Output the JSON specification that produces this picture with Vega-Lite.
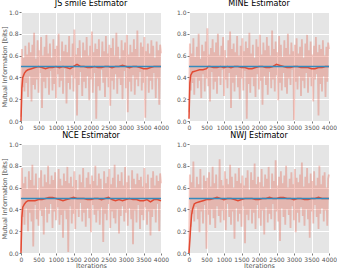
{
"$schema": "https://vega.github.io/schema/vega-lite/v6.json",
"padding": {"left": 1, "top": 0, "right": 0, "bottom": 0},
"background": "white",
"bounds": "flush",
"datasets": {
"truth": [{"i":0,"v":0.5},{"i":4000,"v":0.5}],
"jsr": [{"i":0,"v":0.04},{"i":25,"v":0.66},{"i":50,"v":0.31},{"i":75,"v":0.58},{"i":100,"v":0.27},{"i":125,"v":0.69},{"i":150,"v":0.35},{"i":175,"v":0.61},{"i":200,"v":0.22},{"i":225,"v":0.72},
{"i":250,"v":0.41},{"i":275,"v":0.63},{"i":300,"v":0.18},{"i":325,"v":0.70},{"i":350,"v":0.33},{"i":375,"v":0.81},{"i":400,"v":0.29},{"i":425,"v":0.57},{"i":450,"v":0.38},{"i":475,"v":0.74},
{"i":500,"v":0.26},{"i":525,"v":0.65},{"i":550,"v":0.44},{"i":575,"v":0.77},{"i":600,"v":0.12},{"i":625,"v":0.60},{"i":650,"v":0.36},{"i":675,"v":0.68},{"i":700,"v":0.30},{"i":725,"v":0.79},
{"i":750,"v":0.40},{"i":775,"v":0.62},{"i":800,"v":0.24},{"i":825,"v":0.71},{"i":850,"v":0.46},{"i":875,"v":0.58},{"i":900,"v":0.28},{"i":925,"v":0.75},{"i":950,"v":0.34},{"i":975,"v":0.66},
{"i":1000,"v":0.21},{"i":1025,"v":0.69},{"i":1050,"v":0.43},{"i":1075,"v":0.80},{"i":1100,"v":0.31},{"i":1125,"v":0.55},{"i":1150,"v":0.37},{"i":1175,"v":0.73},{"i":1200,"v":0.25},{"i":1225,"v":0.64},
{"i":1250,"v":0.48},{"i":1275,"v":0.70},{"i":1300,"v":0.16},{"i":1325,"v":0.63},{"i":1350,"v":0.35},{"i":1375,"v":0.78},{"i":1400,"v":0.29},{"i":1425,"v":0.59},{"i":1450,"v":0.42},{"i":1475,"v":0.71},
{"i":1500,"v":0.27},{"i":1525,"v":0.84},{"i":1550,"v":0.39},{"i":1575,"v":0.61},{"i":1600,"v":0.05},{"i":1625,"v":0.67},{"i":1650,"v":0.33},{"i":1675,"v":0.74},{"i":1700,"v":0.45},{"i":1725,"v":0.58},
{"i":1750,"v":0.23},{"i":1775,"v":0.72},{"i":1800,"v":0.36},{"i":1825,"v":0.65},{"i":1850,"v":0.30},{"i":1875,"v":0.77},{"i":1900,"v":0.41},{"i":1925,"v":0.60},{"i":1950,"v":0.19},{"i":1975,"v":0.69},
{"i":2000,"v":0.38},{"i":2025,"v":0.82},{"i":2050,"v":0.26},{"i":2075,"v":0.63},{"i":2100,"v":0.44},{"i":2125,"v":0.71},{"i":2150,"v":0.02},{"i":2175,"v":0.66},{"i":2200,"v":0.32},{"i":2225,"v":0.75},
{"i":2250,"v":0.28},{"i":2275,"v":0.59},{"i":2300,"v":0.47},{"i":2325,"v":0.73},{"i":2350,"v":0.35},{"i":2375,"v":0.64},{"i":2400,"v":0.22},{"i":2425,"v":0.78},{"i":2450,"v":0.40},{"i":2475,"v":0.62},
{"i":2500,"v":0.31},{"i":2525,"v":0.70},{"i":2550,"v":0.14},{"i":2575,"v":0.67},{"i":2600,"v":0.37},{"i":2625,"v":0.76},{"i":2650,"v":0.29},{"i":2675,"v":0.60},{"i":2700,"v":0.43},{"i":2725,"v":0.81},
{"i":2750,"v":0.25},{"i":2775,"v":0.68},{"i":2800,"v":0.39},{"i":2825,"v":0.57},{"i":2850,"v":0.33},{"i":2875,"v":0.74},{"i":2900,"v":0.20},{"i":2925,"v":0.65},{"i":2950,"v":0.46},{"i":2975,"v":0.72},
{"i":3000,"v":0.30},{"i":3025,"v":0.79},{"i":3050,"v":0.08},{"i":3075,"v":0.61},{"i":3100,"v":0.36},{"i":3125,"v":0.70},{"i":3150,"v":0.27},{"i":3175,"v":0.63},{"i":3200,"v":0.42},{"i":3225,"v":0.75},
{"i":3250,"v":0.24},{"i":3275,"v":0.66},{"i":3300,"v":0.38},{"i":3325,"v":0.83},{"i":3350,"v":0.32},{"i":3375,"v":0.59},{"i":3400,"v":0.45},{"i":3425,"v":0.72},{"i":3450,"v":0.28},{"i":3475,"v":0.68},
{"i":3500,"v":0.35},{"i":3525,"v":0.77},{"i":3550,"v":0.03},{"i":3575,"v":0.64},{"i":3600,"v":0.41},{"i":3625,"v":0.71},{"i":3650,"v":0.26},{"i":3675,"v":0.62},{"i":3700,"v":0.37},{"i":3725,"v":0.74},
{"i":3750,"v":0.29},{"i":3775,"v":0.69},{"i":3800,"v":0.44},{"i":3825,"v":0.58},{"i":3850,"v":0.21},{"i":3875,"v":0.73},{"i":3900,"v":0.39},{"i":3925,"v":0.65},{"i":3950,"v":0.15},{"i":3975,"v":0.70},
{"i":4000,"v":0.62}],
"mir": [{"i":0,"v":0.08},{"i":25,"v":0.71},{"i":50,"v":0.28},{"i":75,"v":0.62},{"i":100,"v":0.35},{"i":125,"v":0.76},{"i":150,"v":0.24},{"i":175,"v":0.59},{"i":200,"v":0.40},{"i":225,"v":0.68},
{"i":250,"v":0.30},{"i":275,"v":0.80},{"i":300,"v":0.37},{"i":325,"v":0.57},{"i":350,"v":0.21},{"i":375,"v":0.70},{"i":400,"v":0.43},{"i":425,"v":0.64},{"i":450,"v":0.27},{"i":475,"v":0.73},
{"i":500,"v":0.39},{"i":525,"v":0.85},{"i":550,"v":0.32},{"i":575,"v":0.61},{"i":600,"v":0.18},{"i":625,"v":0.67},{"i":650,"v":0.45},{"i":675,"v":0.75},{"i":700,"v":0.29},{"i":725,"v":0.63},
{"i":750,"v":0.36},{"i":775,"v":0.72},{"i":800,"v":0.25},{"i":825,"v":0.80},{"i":850,"v":0.41},{"i":875,"v":0.60},{"i":900,"v":0.33},{"i":925,"v":0.69},{"i":950,"v":0.47},{"i":975,"v":0.77},
{"i":1000,"v":0.23},{"i":1025,"v":0.65},{"i":1050,"v":0.38},{"i":1075,"v":0.58},{"i":1100,"v":0.30},{"i":1125,"v":0.74},{"i":1150,"v":0.44},{"i":1175,"v":0.82},{"i":1200,"v":0.12},{"i":1225,"v":0.66},
{"i":1250,"v":0.35},{"i":1275,"v":0.71},{"i":1300,"v":0.27},{"i":1325,"v":0.63},{"i":1350,"v":0.42},{"i":1375,"v":0.78},{"i":1400,"v":0.31},{"i":1425,"v":0.60},{"i":1450,"v":0.20},{"i":1475,"v":0.69},
{"i":1500,"v":0.39},{"i":1525,"v":0.76},{"i":1550,"v":0.28},{"i":1575,"v":0.64},{"i":1600,"v":0.46},{"i":1625,"v":0.73},{"i":1650,"v":0.02},{"i":1675,"v":0.67},{"i":1700,"v":0.34},{"i":1725,"v":0.81},
{"i":1750,"v":0.26},{"i":1775,"v":0.62},{"i":1800,"v":0.40},{"i":1825,"v":0.70},{"i":1850,"v":0.32},{"i":1875,"v":0.58},{"i":1900,"v":0.22},{"i":1925,"v":0.75},{"i":1950,"v":0.43},{"i":1975,"v":0.68},
{"i":2000,"v":0.29},{"i":2025,"v":0.79},{"i":2050,"v":0.37},{"i":2075,"v":0.61},{"i":2100,"v":0.15},{"i":2125,"v":0.72},{"i":2150,"v":0.41},{"i":2175,"v":0.65},{"i":2200,"v":0.33},{"i":2225,"v":0.77},
{"i":2250,"v":0.24},{"i":2275,"v":0.69},{"i":2300,"v":0.45},{"i":2325,"v":0.60},{"i":2350,"v":0.30},{"i":2375,"v":0.83},{"i":2400,"v":0.38},{"i":2425,"v":0.66},{"i":2450,"v":0.27},{"i":2475,"v":0.73},
{"i":2500,"v":0.42},{"i":2525,"v":0.63},{"i":2550,"v":0.19},{"i":2575,"v":0.78},{"i":2600,"v":0.35},{"i":2625,"v":0.70},{"i":2650,"v":0.28},{"i":2675,"v":0.59},{"i":2700,"v":0.44},{"i":2725,"v":0.74},
{"i":2750,"v":0.31},{"i":2775,"v":0.67},{"i":2800,"v":0.25},{"i":2825,"v":0.80},{"i":2850,"v":0.39},{"i":2875,"v":0.61},{"i":2900,"v":0.33},{"i":2925,"v":0.72},{"i":2950,"v":0.47},{"i":2975,"v":0.64},
{"i":3000,"v":0.01},{"i":3025,"v":0.70},{"i":3050,"v":0.36},{"i":3075,"v":0.76},{"i":3100,"v":0.29},{"i":3125,"v":0.62},{"i":3150,"v":0.41},{"i":3175,"v":0.68},{"i":3200,"v":0.23},{"i":3225,"v":0.75},
{"i":3250,"v":0.37},{"i":3275,"v":0.58},{"i":3300,"v":0.30},{"i":3325,"v":0.71},{"i":3350,"v":0.44},{"i":3375,"v":0.79},{"i":3400,"v":0.26},{"i":3425,"v":0.65},{"i":3450,"v":0.40},{"i":3475,"v":0.73},
{"i":3500,"v":0.32},{"i":3525,"v":0.61},{"i":3550,"v":0.18},{"i":3575,"v":0.69},{"i":3600,"v":0.38},{"i":3625,"v":0.77},{"i":3650,"v":0.43},{"i":3675,"v":0.63},{"i":3700,"v":0.05},{"i":3725,"v":0.70},
{"i":3750,"v":0.34},{"i":3775,"v":0.66},{"i":3800,"v":0.27},{"i":3825,"v":0.74},{"i":3850,"v":0.41},{"i":3875,"v":0.60},{"i":3900,"v":0.22},{"i":3925,"v":0.68},{"i":3950,"v":0.36},{"i":3975,"v":0.72},
{"i":4000,"v":0.66}],
"ncr": [{"i":0,"v":0.02},{"i":25,"v":0.78},{"i":50,"v":0.33},{"i":75,"v":0.64},{"i":100,"v":0.26},{"i":125,"v":0.70},{"i":150,"v":0.41},{"i":175,"v":0.59},{"i":200,"v":0.20},{"i":225,"v":0.75},
{"i":250,"v":0.37},{"i":275,"v":0.67},{"i":300,"v":0.29},{"i":325,"v":0.81},{"i":350,"v":0.06},{"i":375,"v":0.62},{"i":400,"v":0.44},{"i":425,"v":0.73},{"i":450,"v":0.31},{"i":475,"v":0.58},
{"i":500,"v":0.25},{"i":525,"v":0.69},{"i":550,"v":0.39},{"i":575,"v":0.76},{"i":600,"v":0.34},{"i":625,"v":0.61},{"i":650,"v":0.17},{"i":675,"v":0.72},{"i":700,"v":0.42},{"i":725,"v":0.65},
{"i":750,"v":0.28},{"i":775,"v":0.80},{"i":800,"v":0.36},{"i":825,"v":0.63},{"i":850,"v":0.45},{"i":875,"v":0.71},{"i":900,"v":0.23},{"i":925,"v":0.67},{"i":950,"v":0.38},{"i":975,"v":0.74},
{"i":1000,"v":0.30},{"i":1025,"v":0.59},{"i":1050,"v":0.42},{"i":1075,"v":0.77},{"i":1100,"v":0.26},{"i":1125,"v":0.68},{"i":1150,"v":0.35},{"i":1175,"v":0.62},{"i":1200,"v":0.14},{"i":1225,"v":0.73},
{"i":1250,"v":0.39},{"i":1275,"v":0.66},{"i":1300,"v":0.31},{"i":1325,"v":0.79},{"i":1350,"v":0.01},{"i":1375,"v":0.64},{"i":1400,"v":0.43},{"i":1425,"v":0.70},{"i":1450,"v":0.27},{"i":1475,"v":0.61},
{"i":1500,"v":0.36},{"i":1525,"v":0.75},{"i":1550,"v":0.22},{"i":1575,"v":0.67},{"i":1600,"v":0.40},{"i":1625,"v":0.58},{"i":1650,"v":0.33},{"i":1675,"v":0.72},{"i":1700,"v":0.46},{"i":1725,"v":0.65},
{"i":1750,"v":0.29},{"i":1775,"v":0.78},{"i":1800,"v":0.37},{"i":1825,"v":0.60},{"i":1850,"v":0.24},{"i":1875,"v":0.69},{"i":1900,"v":0.41},{"i":1925,"v":0.74},{"i":1950,"v":0.32},{"i":1975,"v":0.63},
{"i":2000,"v":0.19},{"i":2025,"v":0.71},{"i":2050,"v":0.44},{"i":2075,"v":0.66},{"i":2100,"v":0.35},{"i":2125,"v":0.80},{"i":2150,"v":0.28},{"i":2175,"v":0.62},{"i":2200,"v":0.39},{"i":2225,"v":0.73},
{"i":2250,"v":0.26},{"i":2275,"v":0.68},{"i":2300,"v":0.42},{"i":2325,"v":0.59},{"i":2350,"v":0.10},{"i":2375,"v":0.75},{"i":2400,"v":0.36},{"i":2425,"v":0.64},{"i":2450,"v":0.30},{"i":2475,"v":0.70},
{"i":2500,"v":0.45},{"i":2525,"v":0.77},{"i":2550,"v":0.23},{"i":2575,"v":0.63},{"i":2600,"v":0.38},{"i":2625,"v":0.69},{"i":2650,"v":0.32},{"i":2675,"v":0.81},{"i":2700,"v":0.27},{"i":2725,"v":0.60},
{"i":2750,"v":0.40},{"i":2775,"v":0.72},{"i":2800,"v":0.18},{"i":2825,"v":0.66},{"i":2850,"v":0.34},{"i":2875,"v":0.74},{"i":2900,"v":0.43},{"i":2925,"v":0.62},{"i":2950,"v":0.29},{"i":2975,"v":0.79},
{"i":3000,"v":0.37},{"i":3025,"v":0.65},{"i":3050,"v":0.25},{"i":3075,"v":0.71},{"i":3100,"v":0.41},{"i":3125,"v":0.58},{"i":3150,"v":0.31},{"i":3175,"v":0.76},{"i":3200,"v":0.08},{"i":3225,"v":0.68},
{"i":3250,"v":0.39},{"i":3275,"v":0.63},{"i":3300,"v":0.28},{"i":3325,"v":0.73},{"i":3350,"v":0.44},{"i":3375,"v":0.67},{"i":3400,"v":0.22},{"i":3425,"v":0.70},{"i":3450,"v":0.35},{"i":3475,"v":0.61},
{"i":3500,"v":0.30},{"i":3525,"v":0.78},{"i":3550,"v":0.42},{"i":3575,"v":0.64},{"i":3600,"v":0.26},{"i":3625,"v":0.72},{"i":3650,"v":0.38},{"i":3675,"v":0.59},{"i":3700,"v":0.16},{"i":3725,"v":0.69},
{"i":3750,"v":0.33},{"i":3775,"v":0.75},{"i":3800,"v":0.40},{"i":3825,"v":0.62},{"i":3850,"v":0.28},{"i":3875,"v":0.71},{"i":3900,"v":0.45},{"i":3925,"v":0.66},{"i":3950,"v":0.20},{"i":3975,"v":0.73},
{"i":4000,"v":0.64}],
"nwr": [{"i":0,"v":0.00},{"i":25,"v":0.72},{"i":50,"v":0.24},{"i":75,"v":0.65},{"i":100,"v":0.36},{"i":125,"v":0.84},{"i":150,"v":0.29},{"i":175,"v":0.60},{"i":200,"v":0.42},{"i":225,"v":0.70},
{"i":250,"v":0.31},{"i":275,"v":0.63},{"i":300,"v":0.19},{"i":325,"v":0.77},{"i":350,"v":0.38},{"i":375,"v":0.58},{"i":400,"v":0.27},{"i":425,"v":0.71},{"i":450,"v":0.44},{"i":475,"v":0.66},
{"i":500,"v":0.04},{"i":525,"v":0.69},{"i":550,"v":0.35},{"i":575,"v":0.74},{"i":600,"v":0.26},{"i":625,"v":0.61},{"i":650,"v":0.40},{"i":675,"v":0.79},{"i":700,"v":0.32},{"i":725,"v":0.64},
{"i":750,"v":0.23},{"i":775,"v":0.72},{"i":800,"v":0.43},{"i":825,"v":0.59},{"i":850,"v":0.34},{"i":875,"v":0.86},{"i":900,"v":0.28},{"i":925,"v":0.67},{"i":950,"v":0.39},{"i":975,"v":0.62},
{"i":1000,"v":0.30},{"i":1025,"v":0.75},{"i":1050,"v":0.21},{"i":1075,"v":0.68},{"i":1100,"v":0.45},{"i":1125,"v":0.63},{"i":1150,"v":0.33},{"i":1175,"v":0.81},{"i":1200,"v":0.26},{"i":1225,"v":0.70},
{"i":1250,"v":0.38},{"i":1275,"v":0.60},{"i":1300,"v":0.13},{"i":1325,"v":0.73},{"i":1350,"v":0.41},{"i":1375,"v":0.66},{"i":1400,"v":0.29},{"i":1425,"v":0.78},{"i":1450,"v":0.36},{"i":1475,"v":0.64},
{"i":1500,"v":0.24},{"i":1525,"v":0.71},{"i":1550,"v":0.43},{"i":1575,"v":0.62},{"i":1600,"v":0.09},{"i":1625,"v":0.69},{"i":1650,"v":0.35},{"i":1675,"v":0.76},{"i":1700,"v":0.30},{"i":1725,"v":0.58},
{"i":1750,"v":0.40},{"i":1775,"v":0.74},{"i":1800,"v":0.27},{"i":1825,"v":0.67},{"i":1850,"v":0.37},{"i":1875,"v":0.82},{"i":1900,"v":0.22},{"i":1925,"v":0.63},{"i":1950,"v":0.44},{"i":1975,"v":0.70},
{"i":2000,"v":0.32},{"i":2025,"v":0.65},{"i":2050,"v":0.25},{"i":2075,"v":0.77},{"i":2100,"v":0.39},{"i":2125,"v":0.61},{"i":2150,"v":0.17},{"i":2175,"v":0.72},{"i":2200,"v":0.42},{"i":2225,"v":0.68},
{"i":2250,"v":0.28},{"i":2275,"v":0.79},{"i":2300,"v":0.36},{"i":2325,"v":0.59},{"i":2350,"v":0.31},{"i":2375,"v":0.73},{"i":2400,"v":0.45},{"i":2425,"v":0.66},{"i":2450,"v":0.21},{"i":2475,"v":0.85},
{"i":2500,"v":0.38},{"i":2525,"v":0.62},{"i":2550,"v":0.29},{"i":2575,"v":0.70},{"i":2600,"v":0.11},{"i":2625,"v":0.75},{"i":2650,"v":0.41},{"i":2675,"v":0.64},{"i":2700,"v":0.33},{"i":2725,"v":0.71},
{"i":2750,"v":0.26},{"i":2775,"v":0.80},{"i":2800,"v":0.40},{"i":2825,"v":0.60},{"i":2850,"v":0.35},{"i":2875,"v":0.68},{"i":2900,"v":0.23},{"i":2925,"v":0.74},{"i":2950,"v":0.43},{"i":2975,"v":0.63},
{"i":3000,"v":0.30},{"i":3025,"v":0.77},{"i":3050,"v":0.19},{"i":3075,"v":0.69},{"i":3100,"v":0.37},{"i":3125,"v":0.65},{"i":3150,"v":0.28},{"i":3175,"v":0.72},{"i":3200,"v":0.42},{"i":3225,"v":0.83},
{"i":3250,"v":0.34},{"i":3275,"v":0.61},{"i":3300,"v":0.25},{"i":3325,"v":0.70},{"i":3350,"v":0.40},{"i":3375,"v":0.78},{"i":3400,"v":0.31},{"i":3425,"v":0.64},{"i":3450,"v":0.14},{"i":3475,"v":0.73},
{"i":3500,"v":0.38},{"i":3525,"v":0.66},{"i":3550,"v":0.27},{"i":3575,"v":0.75},{"i":3600,"v":0.44},{"i":3625,"v":0.62},{"i":3650,"v":0.33},{"i":3675,"v":0.69},{"i":3700,"v":0.22},{"i":3725,"v":0.80},
{"i":3750,"v":0.36},{"i":3775,"v":0.63},{"i":3800,"v":0.41},{"i":3825,"v":0.71},{"i":3850,"v":0.29},{"i":3875,"v":0.74},{"i":3900,"v":0.39},{"i":3925,"v":0.60},{"i":3950,"v":0.25},{"i":3975,"v":0.68},
{"i":4000,"v":0.72}],
"jss": [{"i":0,"v":0.0},{"i":25,"v":0.30},{"i":50,"v":0.40},{"i":100,"v":0.44},{"i":150,"v":0.46},{"i":200,"v":0.47},{"i":300,"v":0.48},{"i":400,"v":0.49},{"i":500,"v":0.50},{"i":600,"v":0.49},{"i":700,"v":0.48},{"i":800,"v":0.49},{"i":900,"v":0.49},{"i":1000,"v":0.50},{"i":1100,"v":0.49},{"i":1200,"v":0.50},{"i":1300,"v":0.49},{"i":1400,"v":0.48},{"i":1500,"v":0.50},{"i":1600,"v":0.52},{"i":1700,"v":0.50},{"i":1800,"v":0.50},{"i":1900,"v":0.49},{"i":2000,"v":0.49},{"i":2100,"v":0.50},{"i":2200,"v":0.49},{"i":2300,"v":0.49},{"i":2400,"v":0.50},{"i":2500,"v":0.50},{"i":2600,"v":0.49},{"i":2700,"v":0.50},{"i":2800,"v":0.50},{"i":2900,"v":0.51},{"i":3000,"v":0.50},{"i":3100,"v":0.49},{"i":3200,"v":0.50},{"i":3300,"v":0.50},{"i":3400,"v":0.49},{"i":3500,"v":0.48},{"i":3600,"v":0.48},{"i":3700,"v":0.49},{"i":3800,"v":0.50},{"i":3900,"v":0.50},{"i":4000,"v":0.50}],
"mis": [{"i":0,"v":0.02},{"i":25,"v":0.35},{"i":50,"v":0.42},{"i":100,"v":0.45},{"i":200,"v":0.46},{"i":300,"v":0.47},{"i":400,"v":0.47},{"i":500,"v":0.48},{"i":550,"v":0.50},{"i":600,"v":0.50},{"i":700,"v":0.49},{"i":800,"v":0.49},{"i":900,"v":0.50},{"i":1000,"v":0.49},{"i":1100,"v":0.50},{"i":1200,"v":0.49},{"i":1300,"v":0.50},{"i":1400,"v":0.50},{"i":1500,"v":0.49},{"i":1600,"v":0.49},{"i":1700,"v":0.48},{"i":1800,"v":0.48},{"i":1900,"v":0.49},{"i":2000,"v":0.50},{"i":2100,"v":0.50},{"i":2200,"v":0.49},{"i":2300,"v":0.49},{"i":2400,"v":0.50},{"i":2500,"v":0.52},{"i":2600,"v":0.51},{"i":2700,"v":0.50},{"i":2800,"v":0.49},{"i":2900,"v":0.49},{"i":3000,"v":0.50},{"i":3100,"v":0.50},{"i":3200,"v":0.49},{"i":3300,"v":0.49},{"i":3400,"v":0.49},{"i":3500,"v":0.48},{"i":3600,"v":0.48},{"i":3700,"v":0.49},{"i":3800,"v":0.49},{"i":3900,"v":0.50},{"i":4000,"v":0.50}],
"ncs": [{"i":0,"v":0.0},{"i":25,"v":0.33},{"i":50,"v":0.42},{"i":100,"v":0.45},{"i":150,"v":0.47},{"i":200,"v":0.48},{"i":300,"v":0.48},{"i":400,"v":0.48},{"i":500,"v":0.49},{"i":600,"v":0.49},{"i":700,"v":0.50},{"i":800,"v":0.51},{"i":900,"v":0.51},{"i":1000,"v":0.50},{"i":1100,"v":0.49},{"i":1200,"v":0.48},{"i":1300,"v":0.49},{"i":1400,"v":0.50},{"i":1500,"v":0.51},{"i":1600,"v":0.50},{"i":1700,"v":0.50},{"i":1800,"v":0.50},{"i":1900,"v":0.49},{"i":2000,"v":0.49},{"i":2100,"v":0.50},{"i":2200,"v":0.50},{"i":2300,"v":0.49},{"i":2400,"v":0.50},{"i":2500,"v":0.51},{"i":2600,"v":0.49},{"i":2700,"v":0.48},{"i":2800,"v":0.49},{"i":2900,"v":0.48},{"i":3000,"v":0.49},{"i":3100,"v":0.50},{"i":3200,"v":0.49},{"i":3300,"v":0.49},{"i":3400,"v":0.48},{"i":3500,"v":0.48},{"i":3600,"v":0.49},{"i":3700,"v":0.47},{"i":3800,"v":0.49},{"i":3900,"v":0.49},{"i":4000,"v":0.48}],
"nws": [{"i":0,"v":0.0},{"i":25,"v":0.12},{"i":50,"v":0.25},{"i":75,"v":0.35},{"i":100,"v":0.40},{"i":150,"v":0.45},{"i":200,"v":0.46},{"i":300,"v":0.47},{"i":400,"v":0.48},{"i":500,"v":0.49},{"i":600,"v":0.49},{"i":700,"v":0.50},{"i":800,"v":0.51},{"i":900,"v":0.50},{"i":1000,"v":0.49},{"i":1100,"v":0.50},{"i":1200,"v":0.50},{"i":1300,"v":0.49},{"i":1400,"v":0.48},{"i":1500,"v":0.49},{"i":1600,"v":0.50},{"i":1700,"v":0.50},{"i":1800,"v":0.50},{"i":1900,"v":0.49},{"i":2000,"v":0.49},{"i":2100,"v":0.50},{"i":2200,"v":0.50},{"i":2300,"v":0.51},{"i":2400,"v":0.50},{"i":2500,"v":0.50},{"i":2600,"v":0.51},{"i":2700,"v":0.51},{"i":2800,"v":0.50},{"i":2900,"v":0.50},{"i":3000,"v":0.49},{"i":3100,"v":0.50},{"i":3200,"v":0.50},{"i":3300,"v":0.49},{"i":3400,"v":0.49},{"i":3500,"v":0.50},{"i":3600,"v":0.50},{"i":3700,"v":0.51},{"i":3800,"v":0.50},{"i":3900,"v":0.50},{"i":4000,"v":0.50}]
},
"columns": 2,
"spacing": {"row": 23, "column": 28},
"concat": [
{"title": "JS smile Estimator", "width": 140, "height": 109,
 "encoding": {
  "x": {"field": "i", "type": "quantitative", "scale": {"domain": [0, 4000]}, "axis": {"values": [0,500,1000,1500,2000,2500,3000,3500,4000], "format": "d", "title": null}},
  "y": {"field": "v", "type": "quantitative", "scale": {"domain": [0, 1]}, "axis": {"values": [0,0.2,0.4,0.6,0.8,1], "format": ".1f", "title": "Mutual Information [bits]"}}},
 "layer": [
  {"data": {"name": "jsr"}, "mark": {"type": "line", "color": "#E24A33", "opacity": 0.3, "strokeWidth": 1.8}},
  {"data": {"name": "jss"}, "mark": {"type": "line", "color": "#E24A33", "strokeWidth": 1.5}},
  {"data": {"name": "truth"}, "mark": {"type": "line", "color": "#348ABD", "strokeWidth": 1.5}}
 ]},
{"title": "MINE Estimator", "width": 140, "height": 109,
 "encoding": {
  "x": {"field": "i", "type": "quantitative", "scale": {"domain": [0, 4000]}, "axis": {"values": [0,500,1000,1500,2000,2500,3000,3500,4000], "format": "d", "title": null}},
  "y": {"field": "v", "type": "quantitative", "scale": {"domain": [0, 1]}, "axis": {"values": [0,0.2,0.4,0.6,0.8,1], "format": ".1f", "title": null}}},
 "layer": [
  {"data": {"name": "mir"}, "mark": {"type": "line", "color": "#E24A33", "opacity": 0.3, "strokeWidth": 1.8}},
  {"data": {"name": "mis"}, "mark": {"type": "line", "color": "#E24A33", "strokeWidth": 1.5}},
  {"data": {"name": "truth"}, "mark": {"type": "line", "color": "#348ABD", "strokeWidth": 1.5}}
 ]},
{"title": "NCE Estimator", "width": 140, "height": 109,
 "encoding": {
  "x": {"field": "i", "type": "quantitative", "scale": {"domain": [0, 4000]}, "axis": {"values": [0,500,1000,1500,2000,2500,3000,3500,4000], "format": "d", "title": "Iterations", "titlePadding": 0}},
  "y": {"field": "v", "type": "quantitative", "scale": {"domain": [0, 1]}, "axis": {"values": [0,0.2,0.4,0.6,0.8,1], "format": ".1f", "title": "Mutual Information [bits]"}}},
 "layer": [
  {"data": {"name": "ncr"}, "mark": {"type": "line", "color": "#E24A33", "opacity": 0.3, "strokeWidth": 1.8}},
  {"data": {"name": "ncs"}, "mark": {"type": "line", "color": "#E24A33", "strokeWidth": 1.5}},
  {"data": {"name": "truth"}, "mark": {"type": "line", "color": "#348ABD", "strokeWidth": 1.5}}
 ]},
{"title": "NWJ Estimator", "width": 140, "height": 109,
 "encoding": {
  "x": {"field": "i", "type": "quantitative", "scale": {"domain": [0, 4000]}, "axis": {"values": [0,500,1000,1500,2000,2500,3000,3500,4000], "format": "d", "title": "Iterations", "titlePadding": 0}},
  "y": {"field": "v", "type": "quantitative", "scale": {"domain": [0, 1]}, "axis": {"values": [0,0.2,0.4,0.6,0.8,1], "format": ".1f", "title": null}}},
 "layer": [
  {"data": {"name": "nwr"}, "mark": {"type": "line", "color": "#E24A33", "opacity": 0.3, "strokeWidth": 1.8}},
  {"data": {"name": "nws"}, "mark": {"type": "line", "color": "#E24A33", "strokeWidth": 1.5}},
  {"data": {"name": "truth"}, "mark": {"type": "line", "color": "#348ABD", "strokeWidth": 1.5}}
 ]}
],
"config": {
  "font": "DejaVu Sans",
  "view": {"fill": "#E5E5E5", "stroke": null},
  "axis": {"grid": true, "gridColor": "#FFFFFF", "gridWidth": 1, "gridOpacity": 1, "domain": false, "tickColor": "#555555", "tickSize": 2, "tickWidth": 0.8, "labelColor": "#555555", "labelFontSize": 6, "labelFont": "DejaVu Sans", "labelPadding": 1, "labelOverlap": false, "labelAngle": 0, "titleFont": "DejaVu Sans", "titleFontSize": 6.5, "titleFontWeight": "normal", "titleColor": "#555555", "titlePadding": 1, "labelFlush": false},
  "title": {"font": "DejaVu Sans", "fontSize": 8, "fontWeight": "normal", "color": "#000000", "offset": 1}
}
}
